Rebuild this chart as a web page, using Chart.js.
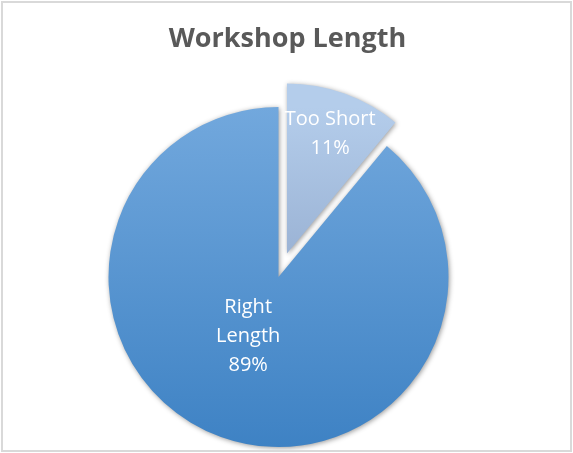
<!DOCTYPE html>
<html>
<head>
<meta charset="utf-8">
<script src="https://cdn.jsdelivr.net/npm/chart.js@4.4.1/dist/chart.umd.min.js"></script>
<style>
  html, body { margin: 0; padding: 0; background: #fff; }
  #wrap { position: relative; width: 573px; height: 453px; }
  #chart-box { position: absolute; left: 0; top: 0; width: 573px; height: 453px; }
  #title { position: absolute; left: 0; top: 18px; width: 575px; text-align: center;
           font: bold 27px "Open Sans"; color: #595959; }
  #frame { position: absolute; left: 1px; top: 1px; width: 571px; height: 451px;
           box-sizing: border-box; border: 2px solid #d9d9d9; pointer-events: none; }
</style>
</head>
<body>
<div id="wrap">
  <div id="chart-box"><canvas id="pie-chart"></canvas></div>
  <div id="title">Workshop Length</div>
  <div id="frame"></div>
</div>
<script>
// data
const categories = ["Too Short", "Right Length"];
const values = [11, 89];

// slice colours (top / bottom of the vertical gradient)
const topColors = ["#b4cdeb", "#72a8dd"];
const bottomColors = ["#7a91b8", "#3e82c4"];

const pieRadius = 170;

// soft drop shadow under the slices
const shadowPlugin = {
  id: 'shadow',
  beforeDatasetsDraw(chart) {
    const ctx = chart.ctx;
    ctx.save();
    ctx.shadowColor = 'rgba(0,0,0,0.4)';
    ctx.shadowBlur = 5;
    ctx.shadowOffsetX = 1;
    ctx.shadowOffsetY = 1;
  },
  afterDatasetsDraw(chart) {
    chart.ctx.restore();
  }
};

// pull slices out along their bisector (excel style explode)
const explodePlugin = {
  id: 'explode',
  afterDatasetUpdate(chart, args, opts) {
    args.meta.data.forEach((arc, i) => {
      const d = opts.distance[i] || 0;
      if (!d) return;
      const mid = (arc.startAngle + arc.endAngle) / 2;
      arc.x += Math.cos(mid) * d;
      arc.y += Math.sin(mid) * d;
    });
  }
};

function wrapText(ctx, text, maxWidth) {
  if (ctx.measureText(text).width <= maxWidth) return [text];
  return text.split(" ");
}

// category + percent written inside each slice
const sliceLabels = {
  id: 'sliceLabels',
  afterDatasetsDraw(chart, args, opts) {
    const ctx = chart.ctx;
    const meta = chart.getDatasetMeta(0);
    const total = values.reduce((a, b) => a + b, 0);
    ctx.save();
    ctx.font = opts.font;
    ctx.fillStyle = opts.color;
    ctx.textAlign = 'center';
    ctx.textBaseline = 'middle';
    meta.data.forEach((arc, i) => {
      const lines = wrapText(ctx, categories[i], opts.maxWidth);
      lines.push(Math.round(values[i] / total * 100) + "%");
      const mid = (arc.startAngle + arc.endAngle) / 2;
      const r = arc.outerRadius * opts.radiusFraction[i];
      const x = arc.x + Math.cos(mid) * r + opts.shiftX[i];
      const y = arc.y + Math.sin(mid) * r;
      const y0 = y - (lines.length - 1) * opts.lineHeight / 2;
      lines.forEach((line, k) => ctx.fillText(line, x, y0 + k * opts.lineHeight));
    });
    ctx.restore();
  }
};

function sliceGradient(context) {
  const chart = context.chart;
  const area = chart.chartArea;
  const i = context.dataIndex;
  if (!area) return topColors[i];
  const cy = (area.top + area.bottom) / 2;
  const g = chart.ctx.createLinearGradient(0, cy - pieRadius, 0, cy + pieRadius);
  g.addColorStop(0, topColors[i]);
  g.addColorStop(1, bottomColors[i]);
  return g;
}

var ctx = document.getElementById("pie-chart").getContext("2d");
new Chart(ctx, {
  type: "pie",
  data: {
    labels: categories,
    datasets: [{
      data: values,
      backgroundColor: sliceGradient,
      borderWidth: 0,
    }]
  },
  options: {
    responsive: true,
    maintainAspectRatio: false,
    animation: false,
    radius: pieRadius,
    layout: {
      padding: { top: 101, bottom: 0, left: 0, right: 16 }
    },
    plugins: {
      legend: { display: false },
      tooltip: { enabled: false },
      explode: { distance: [25, 0] },
      sliceLabels: {
        font: '20px "Open Sans"',
        color: '#ffffff',
        lineHeight: 29,
        maxWidth: 100,
        radiusFraction: [0.75, 0.37],
        shiftX: [0, -9]
      }
    }
  },
  plugins: [shadowPlugin, explodePlugin, sliceLabels]
});
</script>
</body>
</html>
